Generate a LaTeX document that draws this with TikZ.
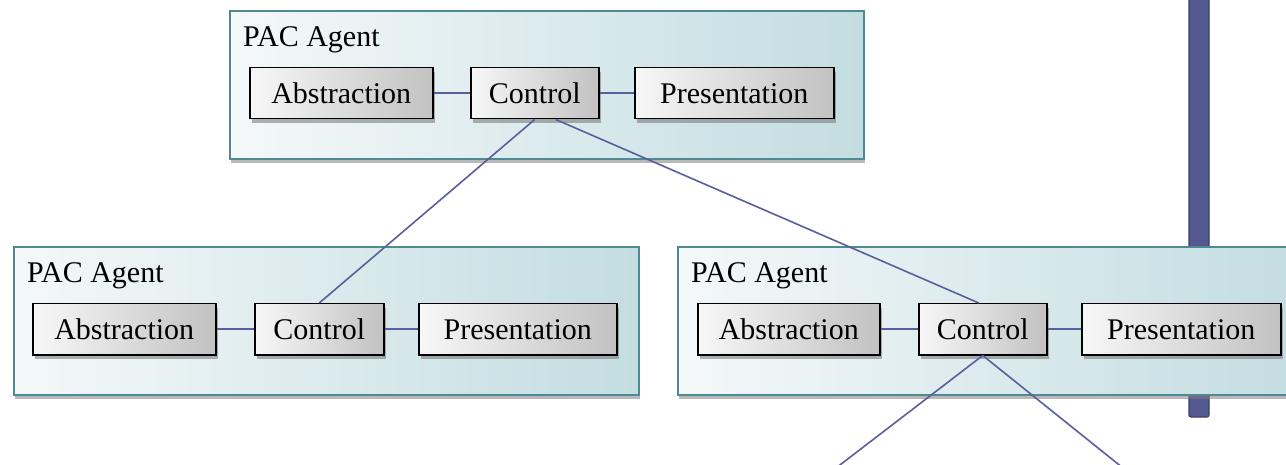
\documentclass[tikz,border=0pt]{standalone}
\usepackage{fontspec}
\setmainfont{Liberation Serif}
\usetikzlibrary{shadows}

\definecolor{agentedge}{HTML}{4E8A90}
\definecolor{agentlight}{HTML}{F4F8F9}
\definecolor{agentdark}{HTML}{C3DDE1}
\definecolor{linkcol}{HTML}{5B5E9C}
\definecolor{barfill}{HTML}{535891}
\definecolor{baredge}{HTML}{3A3D6E}

\tikzset{
  agent/.style={draw=agentedge, line width=1.6pt, left color=agentlight, right color=agentdark,
    anchor=north west, minimum height=148pt, inner sep=0pt,
    drop shadow={shadow xshift=1pt, shadow yshift=-4pt, fill=black!50, opacity=0.55}},
  agentlabel/.style={anchor=base west, inner sep=0pt, font=\fontsize{30}{34}\selectfont},
  part/.style={draw=black, line width=1.5pt, left color=black!3, right color=black!24,
    anchor=north west, minimum height=51pt, inner sep=0pt, font=\fontsize{30}{34}\selectfont,
    drop shadow={shadow xshift=2pt, shadow yshift=-4pt, fill=black!55, opacity=0.55}},
  link/.style={draw=linkcol, line width=1.6pt},
}

\begin{document}
\begin{tikzpicture}[x=1pt, y=-1pt]
\useasboundingbox (0,0) rectangle (1286,465);
% vertical bar behind the right agent
\draw[baredge, fill=barfill, line width=1.2pt, rounded corners=2pt] (1189,-10) rectangle (1209,417);

% agents
\node[agent, minimum width=634pt] (topAgent) at (229,10) {};
\node[agent, minimum width=625pt] (leftAgent) at (13,246) {};
\node[agent, minimum width=620pt] (rightAgent) at (677,246) {};
\node[agentlabel] (topLabel) at (243,47) {PAC Agent};
\node[agentlabel] (leftLabel) at (27,283) {PAC Agent};
\node[agentlabel] (rightLabel) at (691,283) {PAC Agent};

% top agent parts
\node[part, minimum width=183pt] (topA) at (249,67) {Abstraction};
\node[part, minimum width=128pt] (topC) at (470,67) {Control};
\node[part, minimum width=199pt] (topP) at (634,67) {Presentation};
% left agent parts
\node[part, minimum width=183pt] (leftA) at (32,303) {Abstraction};
\node[part, minimum width=129pt] (leftC) at (254,303) {Control};
\node[part, minimum width=198pt] (leftP) at (418,303) {Presentation};
% right agent parts
\node[part, minimum width=182pt] (rightA) at (697,303) {Abstraction};
\node[part, minimum width=128pt] (rightC) at (918,303) {Control};
\node[part, minimum width=199pt] (rightP) at (1081,303) {Presentation};

\coordinate (downL) at (836,468);
\coordinate (downR) at (1123,468);

% links
\draw[link] (topA) -- (topC);
\draw[link] (topC) -- (topP);
\draw[link] (leftA) -- (leftC);
\draw[link] (leftC) -- (leftP);
\draw[link] (rightA) -- (rightC);
\draw[link] (rightC) -- (rightP);
\draw[link] (topC.south) -- (leftC.north);
\draw[link] ([xshift=21pt]topC.south) -- ([xshift=-4pt]rightC.north);
\draw[link] (rightC.south) -- (downL);
\draw[link] (rightC.south) -- (downR);
\end{tikzpicture}
\end{document}
